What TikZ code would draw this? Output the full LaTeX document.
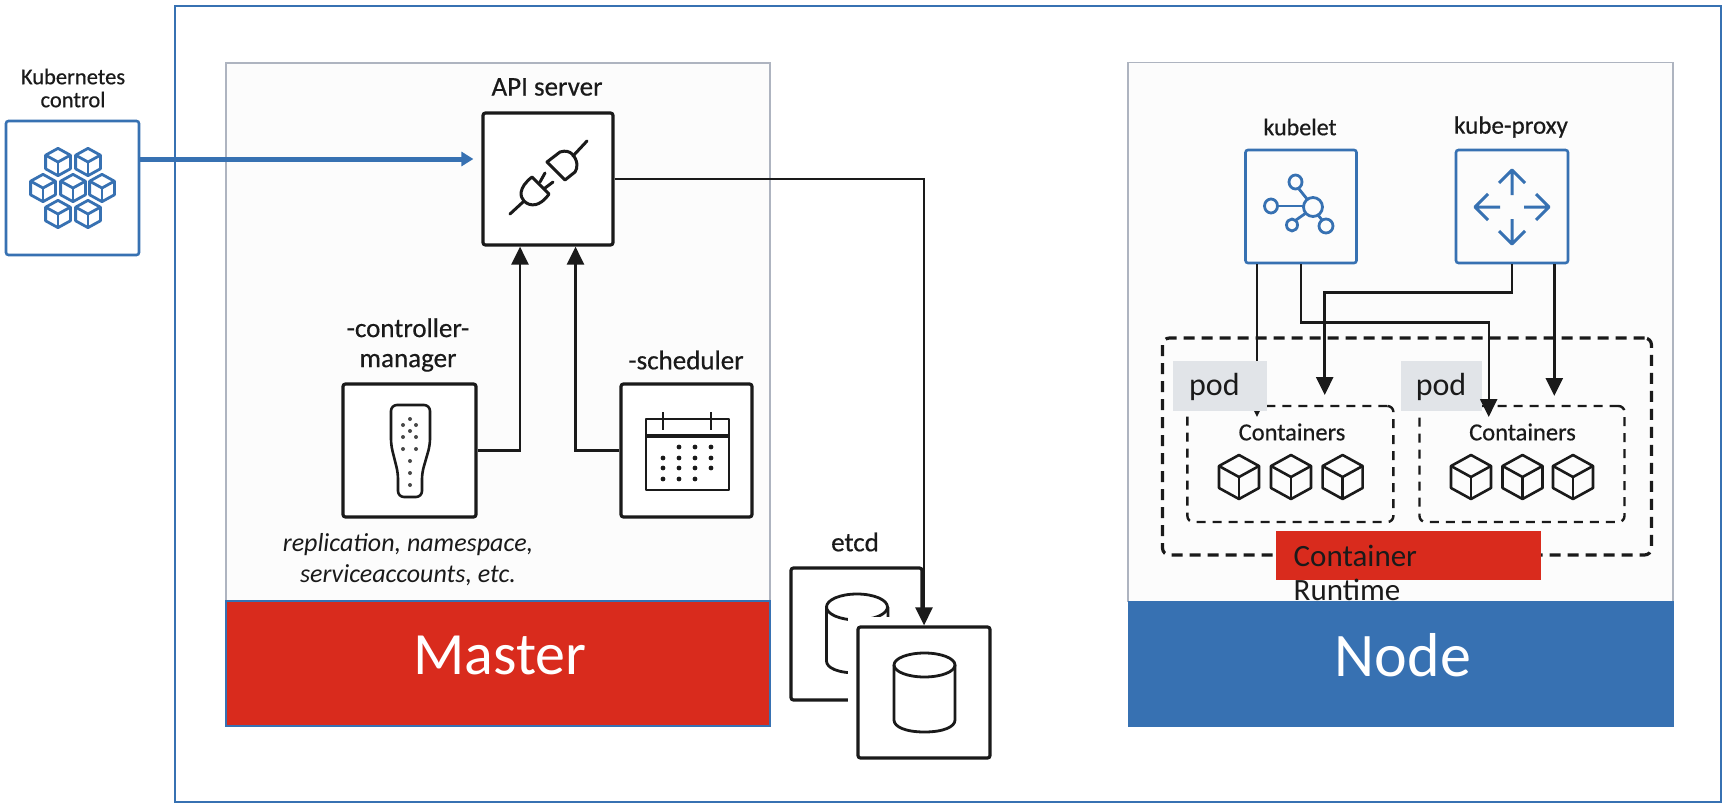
\documentclass[tikz,border=0pt]{standalone}
\usepackage{fontspec}
\setmainfont{Carlito}
\newfontfamily\labelfont[FakeBold=0.5]{Carlito}
\usetikzlibrary{calc,arrows.meta}
\definecolor{kubeblue}{HTML}{3771B2}
\definecolor{kubered}{HTML}{D92B1D}
\definecolor{panelgray}{HTML}{AEB4C0}
\definecolor{podgray}{HTML}{E1E4E8}
\definecolor{inkblack}{HTML}{1A1A1A}
\tikzset{
  panel/.style={draw=panelgray, line width=1.8pt, fill=black!1},
  band/.style={draw=none, inner sep=0pt},
  iconbox/.style={draw=inkblack, line width=3.2pt, rounded corners=2.5pt, fill=white, inner sep=0pt},
  bluebox/.style={draw=kubeblue, line width=2.6pt, rounded corners=2.5pt, fill=white, inner sep=0pt},
  podbox/.style={fill=podgray, inner sep=0pt},
  label/.style={inner sep=0pt, text=inkblack, align=center, font=\labelfont\fontsize{27}{30}\selectfont},
  flow/.style={draw=inkblack, line width=2.8pt, -{Triangle[length=18pt,width=17pt]}},
  icon/.style={draw=inkblack, line width=2.6pt, line join=round},
  blueicon/.style={draw=kubeblue, line width=2.8pt, line join=round},
  cubeicon/.pic={code={%
      \draw [pic actions] (0,-22) -- (20,-11) -- (20,11) -- (0,22) -- (-20,11) -- (-20,-11) -- cycle;
      \draw [pic actions] (-20,-11) -- (0,0) -- (20,-11);
      \draw [pic actions] (0,0) -- (0,22);
  }}
}
\begin{document}
\begin{tikzpicture}[x=1pt, y=-1pt]
    \useasboundingbox (0,0) rectangle (1725,808);
    \fill [white] (0,0) rectangle (1725,808);

    % outer frame
    \draw [kubeblue, line width=2.4pt] (175,6) rectangle (1721,802);

    % panels
    \node [panel, minimum width=544pt, minimum height=538pt] (masterpanel) at (498,332) {};
    \node [panel, minimum width=545pt, minimum height=539pt] (nodepanel) at (1400.5,332) {};
    \node [band, fill=kubered, draw=kubeblue, line width=1.8pt, minimum width=544pt, minimum height=125pt] (masterband) at (498,663.5) {};
    \node [band, fill=kubeblue, minimum width=546pt, minimum height=126pt] (nodeband) at (1400.5,664) {};
    \node [band, text=white, font=\fontsize{60}{60}\selectfont] (mastertext) at (500,655) {Master};
    \node [band, text=white, font=\fontsize{62}{62}\selectfont] (nodetext) at (1403,655) {Node};

    % left side
    \node [bluebox, minimum width=133pt, minimum height=134pt] (kubectl) at (72.5,188) {};
    \node [label, font=\labelfont\fontsize{22.5}{23}\selectfont] (kubectllabel) at (73,88) {Kubernetes\\control};
    \foreach \cx/\cy in {58/162, 88/162, 43/188, 73/188, 102/188, 58/214, 88/214}
      \pic [blueicon, scale=0.62] at (\cx,\cy) {cubeicon};

    % master
    \node [iconbox, minimum width=130pt, minimum height=132pt] (apibox) at (548,179) {};
    \node [label] (apilabel) at (547,87) {API server};
    \node [iconbox, minimum width=133pt, minimum height=133pt] (ctrlbox) at (409.5,450.5) {};
    \node [label] (ctrllabel) at (408,345) {-controller-\\manager};
    \node [iconbox, minimum width=131pt, minimum height=133pt] (schedbox) at (686.5,450.5) {};
    \node [label] (schedlabel) at (686,360) {-scheduler};
    \node [label, font=\normalfont\fontsize{26}{31}\selectfont\itshape] (ctrlnote) at (408,560) {replication, namespace,\\serviceaccounts, etc.};

    % plug
    \draw [icon, line width=3pt, line cap=round] (510,214) -- (523,202);
    \draw [icon, line width=3pt] (532,177) .. controls (518,188) and (520,197) .. (524,201) .. controls (530,207) and (540,207) .. (549,194) -- cycle;
    \draw [icon, line width=3pt, line cap=round] (540,182) -- (545,173);
    \draw [icon, line width=3pt, line cap=round] (545,188) -- (553,182);
    \draw [icon, line width=3pt] (547,162) -- (560,152) .. controls (566,150) and (570,152) .. (572,154) .. controls (578,160) and (578,168) .. (575,172) -- (565,180) -- cycle;
    \draw [icon, line width=3pt, line cap=round] (573,156) -- (587,141);

    % remote
    \draw [icon, rounded corners=6pt] (391,405) -- (430,405) -- (430,445) -- (422,473) -- (422,497) -- (398,497) -- (398,473) -- (391,445) -- cycle;
    \foreach \dx/\dy in {410/419, 403/425, 416/425, 410/431, 403/437, 416/437, 403/449, 416/449, 410/461, 410/473, 410/485}
      \fill [inkblack!80] (\dx,\dy) circle (2);

    % calendar
    \draw [icon] (646,419) rectangle (729,490);
    \draw [icon, line width=3.4pt] (646,436) -- (729,436);
    \draw [icon] (663,412) -- (663,430);
    \draw [icon] (711,412) -- (711,430);
    \foreach \dx/\dy in {679/447, 695/447, 711/447, 663/458, 679/458, 695/458, 711/458, 663/468, 679/468, 695/468, 711/468, 663/479, 679/479, 695/479}
      \fill [inkblack] (\dx,\dy) circle (2.4);

    % etcd
    \node [label] (etcdlabel) at (855,542) {etcd};
    \node [iconbox, minimum width=131pt, minimum height=132pt] (etcdback) at (856.5,634) {};
    \draw [icon, line width=2.8pt] (826.5,607) -- (826.5,661) .. controls (826.5,668) and (838,673) .. (857,673) .. controls (876,673) and (888,668) .. (888,661) -- (888,607);
    \draw [icon, line width=2.8pt, fill=white] (857,607) circle [x radius=30.5, y radius=13];
    \fill [white] (848,617) rectangle (1000,768);
    \node [iconbox, minimum width=132pt, minimum height=131pt] (etcdfront) at (924,692.5) {};
    \draw [icon, line width=2.8pt] (894,665) -- (894,720) .. controls (894,727) and (906,732) .. (924.5,732) .. controls (943,732) and (955,727) .. (955,720) -- (955,665);
    \draw [icon, line width=2.8pt] (924.5,665) circle [x radius=30.5, y radius=12];

    % node, upper boxes
    \node [bluebox, fill=black!1, minimum width=111pt, minimum height=113pt] (kubelet) at (1301,206.5) {};
    \node [bluebox, fill=black!1, minimum width=112pt, minimum height=113pt] (proxy) at (1512,206.5) {};
    \node [label, font=\labelfont\fontsize{24}{24}\selectfont] (kubeletlabel) at (1300,127) {kubelet};
    \node [label, font=\labelfont\fontsize{25}{25}\selectfont] (proxylabel) at (1511,127) {kube-proxy};

    % kubelet icon
    \draw [blueicon] (1313,207) circle (9.5);
    \draw [blueicon] (1295.5,182) circle [x radius=6.5, y radius=7];
    \draw [blueicon] (1271,206) circle [x radius=6.5, y radius=7];
    \draw [blueicon] (1292,225) circle [x radius=5.5, y radius=6];
    \draw [blueicon] (1326,226) circle [x radius=7, y radius=7];
    \draw [blueicon] (1299,189) -- (1307,199);
    \draw [blueicon] (1277.5,206) -- (1303.5,206);
    \draw [blueicon] (1296,220) -- (1306,213);
    \draw [blueicon] (1318,215) -- (1322,220);

    % proxy icon
    \foreach \ang in {0,90,180,270}
      \draw [blueicon, line width=3pt, rotate around={\ang:(1512,207)}] (1524,207) -- (1549,207) (1536,194) -- (1549,207) -- (1536,220);

    % pods
    \node [draw=inkblack, line width=3.2pt, dash pattern=on 11pt off 7pt, rounded corners=7pt, minimum width=489pt, minimum height=217pt] (podgroup) at (1407,446.5) {};
    \node [draw=inkblack, line width=2.4pt, dash pattern=on 9pt off 7pt, rounded corners=6pt, minimum width=206pt, minimum height=116pt] (containersa) at (1290.4,464) {};
    \node [draw=inkblack, line width=2.4pt, dash pattern=on 9pt off 7pt, rounded corners=6pt, minimum width=205pt, minimum height=116pt] (containersb) at (1522,464) {};

    % flows from node boxes
    \coordinate (tipa) at (1257,417);
    \coordinate (tipb) at (1324.7,395);
    \coordinate (tipc) at (1488.7,417);
    \coordinate (tipd) at (1554.3,396);
    \draw [flow] ([xshift=-44pt]kubelet.south) -- (tipa);
    \draw [flow] (proxy.south) -- ++(0,28) -| (tipb);
    \node [podbox, minimum width=94.5pt, minimum height=50pt] (poda) at (1220,386) {};
    \node [podbox, minimum width=81pt, minimum height=50pt] (podb) at (1441.3,386) {};
    \draw [flow, line width=2.4pt] (kubelet.south) -- ++(0,58) -| (tipc);
    \draw [flow] ([xshift=42.3pt]proxy.south) -- (tipd);

    \node [band, font=\fontsize{32}{32}\selectfont, text=inkblack] (podtexta) at (1214.4,387) {pod};
    \node [band, font=\fontsize{32}{32}\selectfont, text=inkblack] (podtextb) at (1441,387) {pod};
    \node [label, font=\labelfont\fontsize{24.5}{24.5}\selectfont] (conlabela) at (1292,432) {Containers};
    \node [label, font=\labelfont\fontsize{24.5}{24.5}\selectfont] (conlabelb) at (1522.5,432) {Containers};
    \foreach \cx in {1239, 1291, 1342.6, 1471, 1522.5, 1573}
      \pic [icon, line width=2.6pt] at (\cx,477) {cubeicon};

    % runtime
    \node [band, fill=kubered, minimum width=265pt, minimum height=49pt] (runtimebox) at (1408.7,555.5) {};
    \node [band, anchor=west, font=\fontsize{31}{34}\selectfont, text=inkblack, align=left] (runtimetext) at (1293.5,573) {Container\\Runtime};

    % connectors
    \draw [draw=kubeblue, line width=5pt, -{Triangle[length=12pt,width=14pt]}] ([yshift=29pt]kubectl.east) -- ([yshift=20pt,xshift=-8pt]apibox.west);
    \draw [flow] (ctrlbox.east) -| ([xshift=-28pt]apibox.south);
    \draw [flow] (schedbox.west) -| ([xshift=27.5pt]apibox.south);
    \draw [flow] (apibox.east) -| (etcdfront.north);
\end{tikzpicture}
\end{document}
